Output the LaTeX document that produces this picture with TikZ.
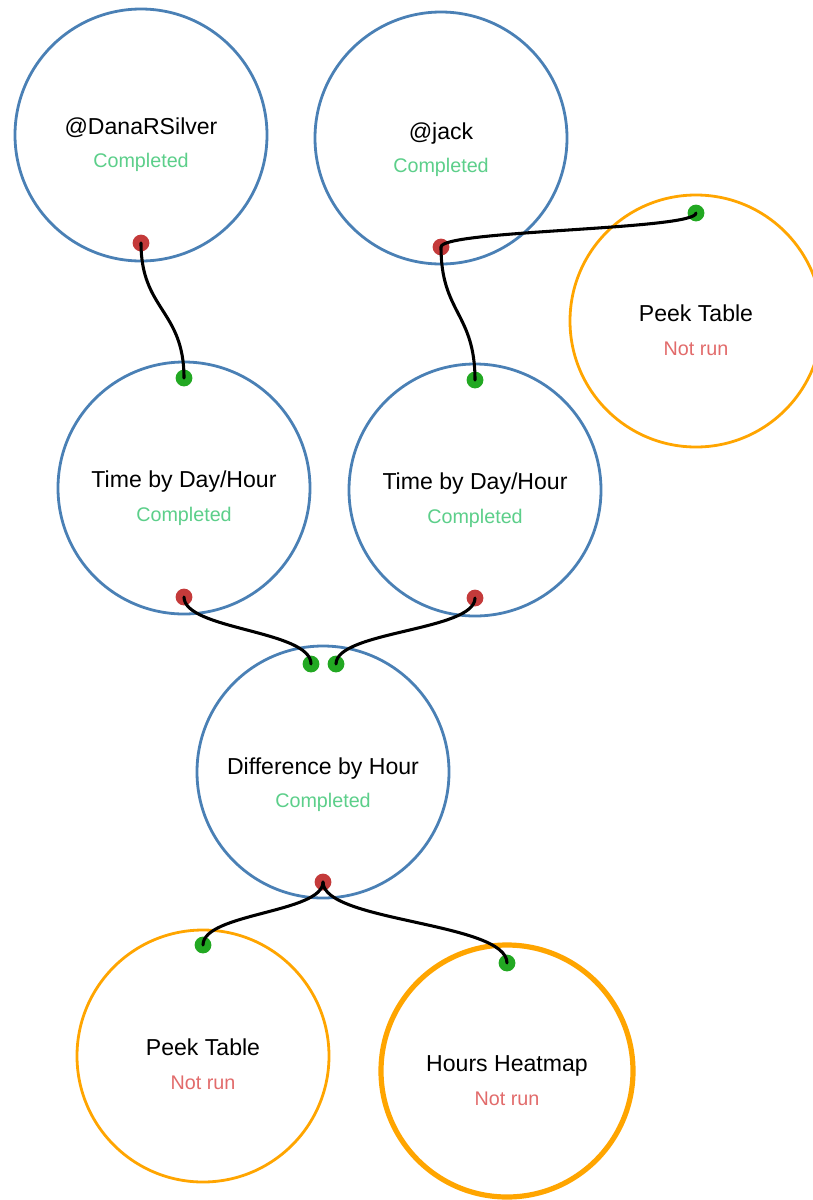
\documentclass[tikz,border=0pt]{standalone}
\usepackage{fontspec}
\setmainfont{Liberation Sans}
\definecolor{nodeblue}{RGB}{74,128,181}
\definecolor{nodeorange}{RGB}{255,165,0}
\definecolor{okgreen}{RGB}{92,207,138}
\definecolor{notred}{RGB}{226,107,107}
\definecolor{portred}{RGB}{196,58,58}
\definecolor{portgreen}{RGB}{34,168,34}
\tikzset{
  done/.style={circle, draw=nodeblue, line width=2.1pt, fill=white, minimum size=189pt, inner sep=0pt},
  pending/.style={circle, draw=nodeorange, line width=2.1pt, fill=white, minimum size=189pt, inner sep=0pt},
  pendingbold/.style={pending, line width=3.9pt},
  title/.style={anchor=base, font=\fontsize{17.3}{20}\selectfont, text=black, inner sep=0pt},
  okstat/.style={anchor=base, font=\fontsize{14.8}{18}\selectfont, text=okgreen, inner sep=0pt},
  nostat/.style={anchor=base, font=\fontsize{14.8}{18}\selectfont, text=notred, inner sep=0pt},
  outport/.style={circle, fill=portred, minimum size=12.6pt, inner sep=0pt},
  inport/.style={circle, fill=portgreen, minimum size=12.6pt, inner sep=0pt},
  link/.style={draw=black, line width=2.3pt, line cap=round}
}
\begin{document}
\begin{tikzpicture}[x=0.75pt, y=-0.75pt]
\useasboundingbox (0,0) rectangle (813,1200);
% circles
\node[done] (dana) at (141,135) {};
\node[done] (jack) at (441,138) {};
\node[pending] (peekA) at (696,321) {};
\node[done] (timeA) at (184,488) {};
\node[done] (timeB) at (475,490) {};
\node[done] (diff) at (323,772) {};
\node[pending] (peekB) at (203,1056) {};
\node[pendingbold] (heat) at (507,1071) {};
% labels
\node[title] (danaT) at (141,134) {@DanaRSilver};
\node[okstat] (danaS) at (141,167) {Completed};
\node[title] (jackT) at (441,139) {@jack};
\node[okstat] (jackS) at (441,172) {Completed};
\node[title] (peekAT) at (696,321) {Peek Table};
\node[nostat] (peekAS) at (696,355) {Not run};
\node[title] (timeAT) at (184,487) {Time by Day/Hour};
\node[okstat] (timeAS) at (184,521) {Completed};
\node[title] (timeBT) at (475,489) {Time by Day/Hour};
\node[okstat] (timeBS) at (475,523) {Completed};
\node[title] (diffT) at (323,774) {Difference by Hour};
\node[okstat] (diffS) at (323,807) {Completed};
\node[title] (peekBT) at (203,1055) {Peek Table};
\node[nostat] (peekBS) at (203,1089) {Not run};
\node[title] (heatT) at (507,1071) {Hours Heatmap};
\node[nostat] (heatS) at (507,1105) {Not run};
% ports
\node[outport] (danaO) at (141,243) {};
\node[outport] (jackO) at (441,247) {};
\node[inport] (peekAI) at (696,213) {};
\node[inport] (timeAI) at (184,378) {};
\node[inport] (timeBI) at (475,380) {};
\node[outport] (timeAO) at (184,597) {};
\node[outport] (timeBO) at (475,598) {};
\node[inport] (diffIA) at (311,664) {};
\node[inport] (diffIB) at (336,664) {};
\node[outport] (diffO) at (323,882) {};
\node[inport] (peekBI) at (203,945) {};
\node[inport] (heatI) at (507,963) {};
% links
\draw[link] (danaO.center) .. controls (141,310) and (184,310) .. (timeAI.center);
\draw[link] (jackO.center) .. controls (441,313) and (475,313) .. (timeBI.center);
\draw[link] (jackO.center) .. controls (441,230) and (696,230) .. (peekAI.center);
\draw[link] (timeAO.center) .. controls (184,630) and (311,630) .. (diffIA.center);
\draw[link] (timeBO.center) .. controls (475,631) and (336,631) .. (diffIB.center);
\draw[link] (diffO.center) .. controls (323,913) and (203,913) .. (peekBI.center);
\draw[link] (diffO.center) .. controls (323,922) and (507,922) .. (heatI.center);
\end{tikzpicture}
\end{document}
